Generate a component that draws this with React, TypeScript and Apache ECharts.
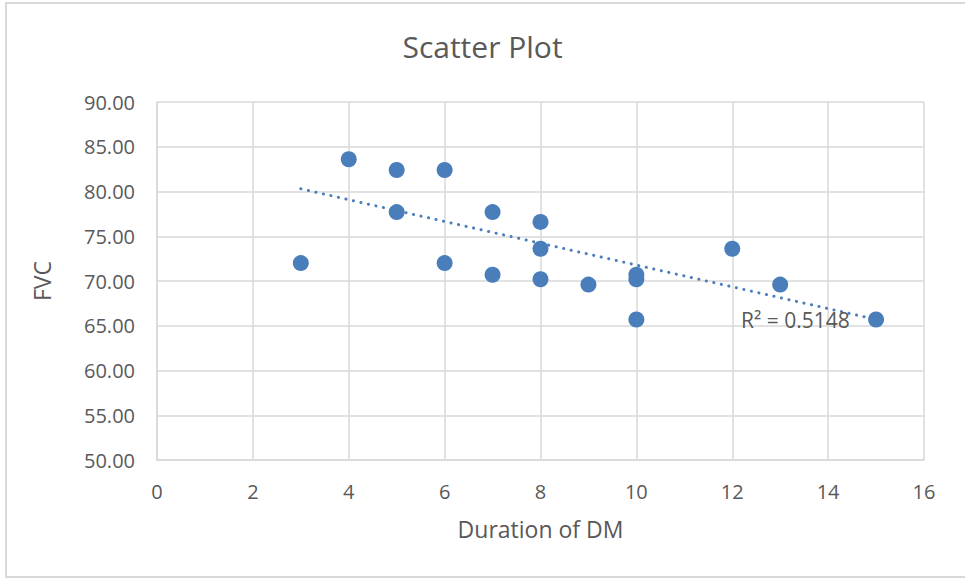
import React, { useEffect, useRef } from "react";
import * as echarts from "echarts";

const durationDM = [3, 4, 5, 5, 6, 6, 7, 7, 8, 8, 8, 9, 10, 10, 10, 12, 13, 15];
const fvc = [72.0, 83.6, 82.4, 77.7, 82.4, 72.0, 77.7, 70.7, 76.6, 73.6, 70.2, 69.6, 70.7, 70.2, 65.7, 73.6, 69.6, 65.7];
const trendX = [3, 15];
const trendY = [80.3, 65.7];
const r2Text = "R² = 0.5148";
const titleText = "Scatter Plot";
const xName = "Duration of DM";
const yName = "FVC";

const FONT = "'Open Sans', 'Noto Sans', sans-serif";
const TXT = "#595959";
const GRID = "#d9d9d9";
const BLUE = "#4a7ebb";

export default function App() {
  const ref = useRef<HTMLDivElement>(null);
  useEffect(() => {
    if (!ref.current) return;
    const chart = echarts.init(ref.current, undefined, { renderer: "svg" });
    chart.setOption({
      animation: false,
      backgroundColor: "#ffffff",
      title: {
        text: titleText,
        left: "center",
        top: 26,
        textStyle: { fontFamily: FONT, fontSize: 30, fontWeight: "normal", color: TXT },
      },
      grid: { left: 157, right: 41, top: 102, bottom: 118 },
      xAxis: {
        type: "value",
        min: 0,
        max: 16,
        interval: 2,
        name: xName,
        nameLocation: "middle",
        nameGap: 57,
        nameTextStyle: { fontFamily: FONT, fontSize: 23, color: TXT },
        axisLine: { show: true, lineStyle: { color: GRID, width: 1.5 } },
        axisTick: { show: false },
        axisLabel: { fontFamily: FONT, fontSize: 20, color: TXT, margin: 21 },
        splitLine: { show: true, lineStyle: { color: GRID, width: 1.5 } },
      },
      yAxis: {
        type: "value",
        min: 50,
        max: 90,
        interval: 5,
        name: yName,
        nameLocation: "middle",
        nameGap: 104,
        nameRotate: 90,
        nameTextStyle: { fontFamily: FONT, fontSize: 23, color: TXT },
        axisLine: { show: true, lineStyle: { color: GRID, width: 1.5 } },
        axisTick: { show: false },
        axisLabel: {
          fontFamily: FONT,
          fontSize: 20,
          color: TXT,
          margin: 22,
          formatter: (v: number) => v.toFixed(2),
        },
        splitLine: { show: true, lineStyle: { color: GRID, width: 1.5 } },
      },
      series: [
        {
          type: "line",
          data: trendX.map((x, i) => [x, trendY[i]]),
          symbol: "none",
          z: 3,
          lineStyle: { color: BLUE, width: 3, type: [0.1, 7.6], cap: "round" },
        },
        {
          type: "scatter",
          data: durationDM.map((x, i) => [x, fvc[i]]),
          symbolSize: 16,
          z: 4,
          itemStyle: { color: BLUE, opacity: 1 },
        },
      ],
      graphic: [
        {
          type: "rect",
          shape: { x: 6, y: 3, width: 980, height: 574 },
          style: { fill: "none", stroke: GRID, lineWidth: 2 },
          silent: true,
        },
        {
          type: "text",
          left: 741,
          top: 309,
          z: 10,
          style: { text: r2Text, fontFamily: FONT, fontSize: 21, fill: TXT },
        },
      ],
    });
    return () => chart.dispose();
  }, []);
  return (
    <div
      ref={ref}
      style={{ position: "fixed", left: 0, top: 0, width: 965, height: 578 }}
    />
  );
}
